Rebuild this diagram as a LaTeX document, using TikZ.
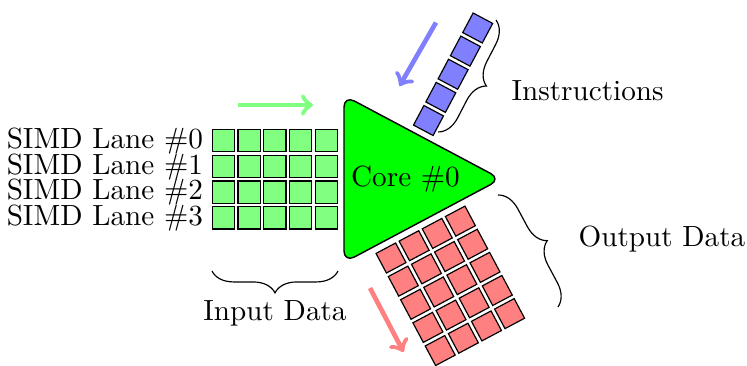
\documentclass[tikz,border=0pt]{standalone}
\usetikzlibrary{decorations.pathreplacing}
\begin{document}
\begin{tikzpicture}[x=0.3427pt,y=-0.3427pt,
  cell/.style={draw=black, line width=0.4pt, minimum size=7.6pt, inner sep=0pt, outer sep=0pt},
  incell/.style={cell, fill=green!50},
  inscell/.style={cell, fill=blue!50},
  outcell/.style={cell, fill=red!50},
  flow/.style={line width=1.6pt, ->},
  bracket/.style={draw=black, line width=0.4pt, decorate, decoration={brace, amplitude=7.5pt}},
  txt/.style={inner sep=0pt, font=\normalsize},
  core/.style={draw=black, line width=0.5pt, fill=green, rounded corners=4pt}]
\useasboundingbox (0,0) rectangle (747,365);

% the core
\draw[core] (344,179) -- (344,95.5) -- (501,179) -- (344,262.5) -- cycle;
\node[txt, anchor=base] (core) at (405.5,186) {Core \#0};

% input data: one row per SIMD lane
\foreach \r in {0,...,3} {
  \node[txt, anchor=base east] (lane-\r) at (203.5,{148.3+25.8*\r}) {SIMD Lane \#\r};
  \foreach \c in {0,...,4}
    \node[incell] (in-\r-\c) at ({223.3+25.8*\c},{140.5+25.8*\r}) {};
}

% instruction stream
\foreach \k in {0,...,4}
  \node[inscell, rotate=-28] (ins-\k) at ({428.5+12.3*\k},{120.5-23.13*\k}) {};

% output data block
\foreach \r in {0,...,4}
  \foreach \c in {0,...,3}
    \node[outcell, rotate=28] (out-\r-\c) at ({391+23.13*\c+12.3*\r},{258-12.3*\c+23.13*\r}) {};

% data flow arrows
\coordinate (inflow-s) at (238,105);
\coordinate (inflow-e) at (313,105);
\draw[flow, green!50] (inflow-s) -- (inflow-e);
\coordinate (insflow-s) at (436,22.5);
\coordinate (insflow-e) at (399.5,86);
\draw[flow, blue!50] (insflow-s) -- (insflow-e);
\coordinate (outflow-s) at (370,288);
\coordinate (outflow-e) at (403.5,352);
\draw[flow, red!50] (outflow-s) -- (outflow-e);

% braces and captions
\coordinate (inb-a) at (338,271);
\coordinate (inb-b) at (212,271);
\draw[bracket] (inb-a) -- (inb-b);
\node[txt, anchor=base] (indata) at (275,320.5) {Input Data};

\coordinate (insb-a) at (496,20);
\coordinate (insb-b) at (438,132);
\draw[bracket] (insb-a) -- (insb-b);
\node[txt, anchor=base west] (instr) at (511,100) {Instructions};

\coordinate (outb-a) at (498,195);
\coordinate (outb-b) at (558,307);
\draw[bracket] (outb-a) -- (outb-b);
\node[txt, anchor=base west] (outdata) at (578,246.5) {Output Data};
\end{tikzpicture}
\end{document}
